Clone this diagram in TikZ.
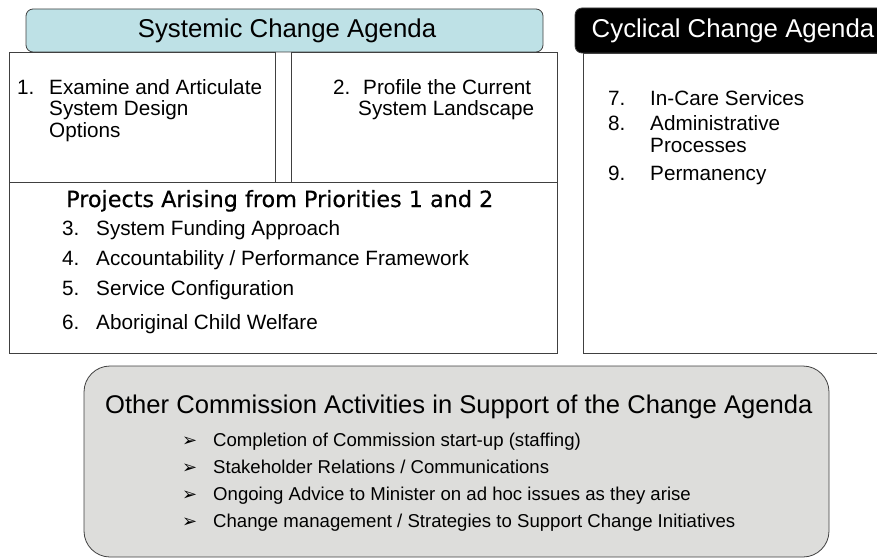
\documentclass[tikz,border=0pt]{standalone}
\usepackage{fontspec}
\setmainfont{Liberation Sans}
\newfontfamily\projfont[FakeBold=0.5]{DejaVu Sans}
\newfontfamily\arrowfont{DejaVu Sans}
\usetikzlibrary{positioning}
\definecolor{systemcyan}{RGB}{190,225,230}
\definecolor{othergray}{RGB}{221,221,219}
\tikzset{
  panel/.style={draw=black!75,line width=0.8pt},
  headlbl/.style={inner sep=0pt,font=\fontsize{25.8}{30}\selectfont},
  numlbl/.style={anchor=base west,inner sep=0pt,font=\fontsize{20.7}{24}\selectfont},
  itemlbl/.style={anchor=base west,inner sep=0pt,font=\fontsize{20.7}{24}\selectfont},
  bulletlbl/.style={anchor=base west,inner sep=0pt,font=\fontsize{18.6}{22}\selectfont}
}

\begin{document}
\begin{tikzpicture}[x=1pt,y=-1pt]
    \useasboundingbox (0,0) rectangle (877,559);
    \clip (0,0) rectangle (877,559);

    % Define the division points of the systemic panel
    \def\xleft{9}      % left edge of the panel
    \def\xcolone{275}  % right edge of priority 1
    \def\xcoltwo{291}  % left edge of priority 2
    \def\xright{557}   % right edge of the panel
    \def\ytop{52}      % top of the panel
    \def\ymid{182}     % split between priorities and projects
    \def\ybot{353}     % bottom of the panels

    % -- Systemic panel: boxes --
    \draw[panel] (\xleft,\ytop) rectangle (\xcolone,\ymid);
    \draw[panel] (\xcoltwo,\ytop) rectangle (\xright,\ymid);
    \draw[panel] (\xleft,\ymid) rectangle (\xright,\ybot);

    % -- Systemic panel: header --
    \draw[panel,fill=systemcyan,rounded corners=7pt] (26,9) rectangle (543,52);
    \node[headlbl] (systemic) at (287,31) {Systemic Change Agenda};

    % -- Priorities 1 and 2 --
    \node[numlbl] (num1) at (17,95) {1.};
    \node[itemlbl] (item1a) at (49,95) {Examine and Articulate};
    \node[itemlbl] (item1b) at (49,116) {System Design};
    \node[itemlbl] (item1c) at (49,137) {Options};
    \node[numlbl] (num2) at (333,95) {2.};
    \node[itemlbl] (item2a) at (363,95) {Profile the Current};
    \node[itemlbl] (item2b) at (358,116) {System Landscape};

    % -- Projects arising from the priorities --
    \node[anchor=base west,inner sep=0pt,font=\projfont\fontsize{22.3}{26}\selectfont]
      (projects) at (66,207) {Projects Arising from Priorities 1 and 2};
    \foreach \n/\txt/\y in {3/System Funding Approach/235,
                           4/{Accountability / Performance Framework}/265,
                           5/Service Configuration/295,
                           6/Aboriginal Child Welfare/329} {
      \node[numlbl] (num\n) at (62,\y) {\n.};
      \node[itemlbl] (item\n) at (96,\y) {\txt};
    }

    % -- Cyclical panel --
    \draw[panel] (583,53) rectangle (900,\ybot);
    \draw[panel,fill=black,rounded corners=7pt] (575,8) rectangle (900,53);
    \node[headlbl,text=white] (cyclical) at (733,31) {Cyclical Change Agenda};
    \node[numlbl] (num7) at (608,106) {7.};
    \node[itemlbl] (item7) at (650,106) {In-Care Services};
    \node[numlbl] (num8) at (608,130) {8.};
    \node[itemlbl] (item8a) at (650,130) {Administrative};
    \node[itemlbl] (item8b) at (650,152) {Processes};
    \node[numlbl] (num9) at (608,180) {9.};
    \node[itemlbl] (item9) at (650,180) {Permanency};

    % -- Other commission activities --
    \draw[panel,fill=othergray,rounded corners=26pt] (84,366) rectangle (829,557);
    \node[anchor=base west,inner sep=0pt,font=\fontsize{25.6}{30}\selectfont]
      (other) at (105,413) {Other Commission Activities in Support of the Change Agenda};
    \foreach \k/\txt/\y in {1/Completion of Commission start-up (staffing)/446,
                           2/{Stakeholder Relations / Communications}/473,
                           3/Ongoing Advice to Minister on ad hoc issues as they arise/500,
                           4/{Change management / Strategies to Support Change Initiatives}/527} {
      \node[bulletlbl,font=\arrowfont\fontsize{18}{20}\selectfont] (arrow\k) at (182,\y) {➢};
      \node[bulletlbl] (bullet\k) at (213,\y) {\txt};
    }
\end{tikzpicture}
\end{document}
